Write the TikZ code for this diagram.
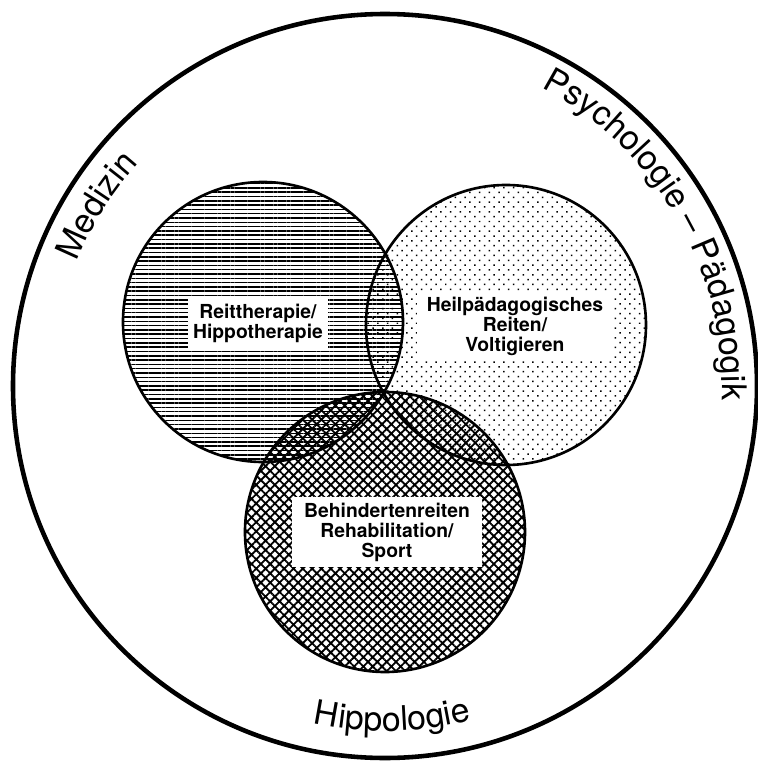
\documentclass[tikz,border=0pt]{standalone}
\usepackage{fontspec}
\setmainfont{TeX Gyre Heros}
\usepackage{tikz}
\usetikzlibrary{patterns.meta, decorations.text}
\newcommand{\ringfont}{\fontsize{19.3}{23}\selectfont}

\begin{document}
\begin{tikzpicture}[x=0.02cm, y=0.02cm,
    rim/.style={draw, line width=2.6pt},
    area/.style={draw, line width=1.5pt},
    hlines/.style={pattern={Lines[angle=0, distance=2.45pt, line width=.85pt]}},
    dotted area/.style={pattern={Dots[angle=45, distance=3.9pt, radius=.6pt]}},
    hatched/.style={pattern={Hatch[angle=45, distance=3.75pt, line width=1.05pt]}},
    fieldbox/.style={
        rectangle, fill=white, inner sep=0pt, align=center,
        font=\fontsize{11}{11.4}\selectfont\bfseries
    },
    ringtext/.style={decorate,
        decoration={text along path, text align=center, text={|\ringfont|#1}}}
]
\useasboundingbox (-385,-383) rectangle (373,386);

\coordinate (ctr)  at (0,0);
\coordinate (reit) at (-122,64);
\coordinate (heil) at (121,61);
\coordinate (behi) at (0,-146);

% fills first, outlines on top
\fill[hlines]      (reit) circle[radius=140];
\fill[dotted area] (heil) circle[radius=140];
\fill[hatched]     (behi) circle[radius=140];

\draw[area] (reit) circle[radius=140];
\draw[area] (heil) circle[radius=140];
\draw[area] (behi) circle[radius=140];
\draw[rim]  (ctr) circle[radius=372];

\node[fieldbox, minimum width=2.8cm, minimum height=1.06cm] (reitlbl) at (-127,63)
    {Reittherapie/\\Hippotherapie};
\node[fieldbox, minimum width=3.92cm, minimum height=1.36cm] (heillbl) at (130,60)
    {Heilpädagogisches\\Reiten/\\Voltigieren};
\node[fieldbox, minimum width=3.8cm, minimum height=1.42cm] (behilbl) at (2,-146)
    {Behindertenreiten\\Rehabilitation/\\Sport};

\path[ringtext=Medizin] (173:332) arc[start angle=173, end angle=123, radius=332];
\path[ringtext=Psychologie – Pädagogik] (70:337) arc[start angle=70, end angle=-10, radius=337];
\path[ringtext=Hippologie] (-118.75:345) arc[start angle=-118.75, end angle=-58.75, radius=345];

\end{tikzpicture}
\end{document}
